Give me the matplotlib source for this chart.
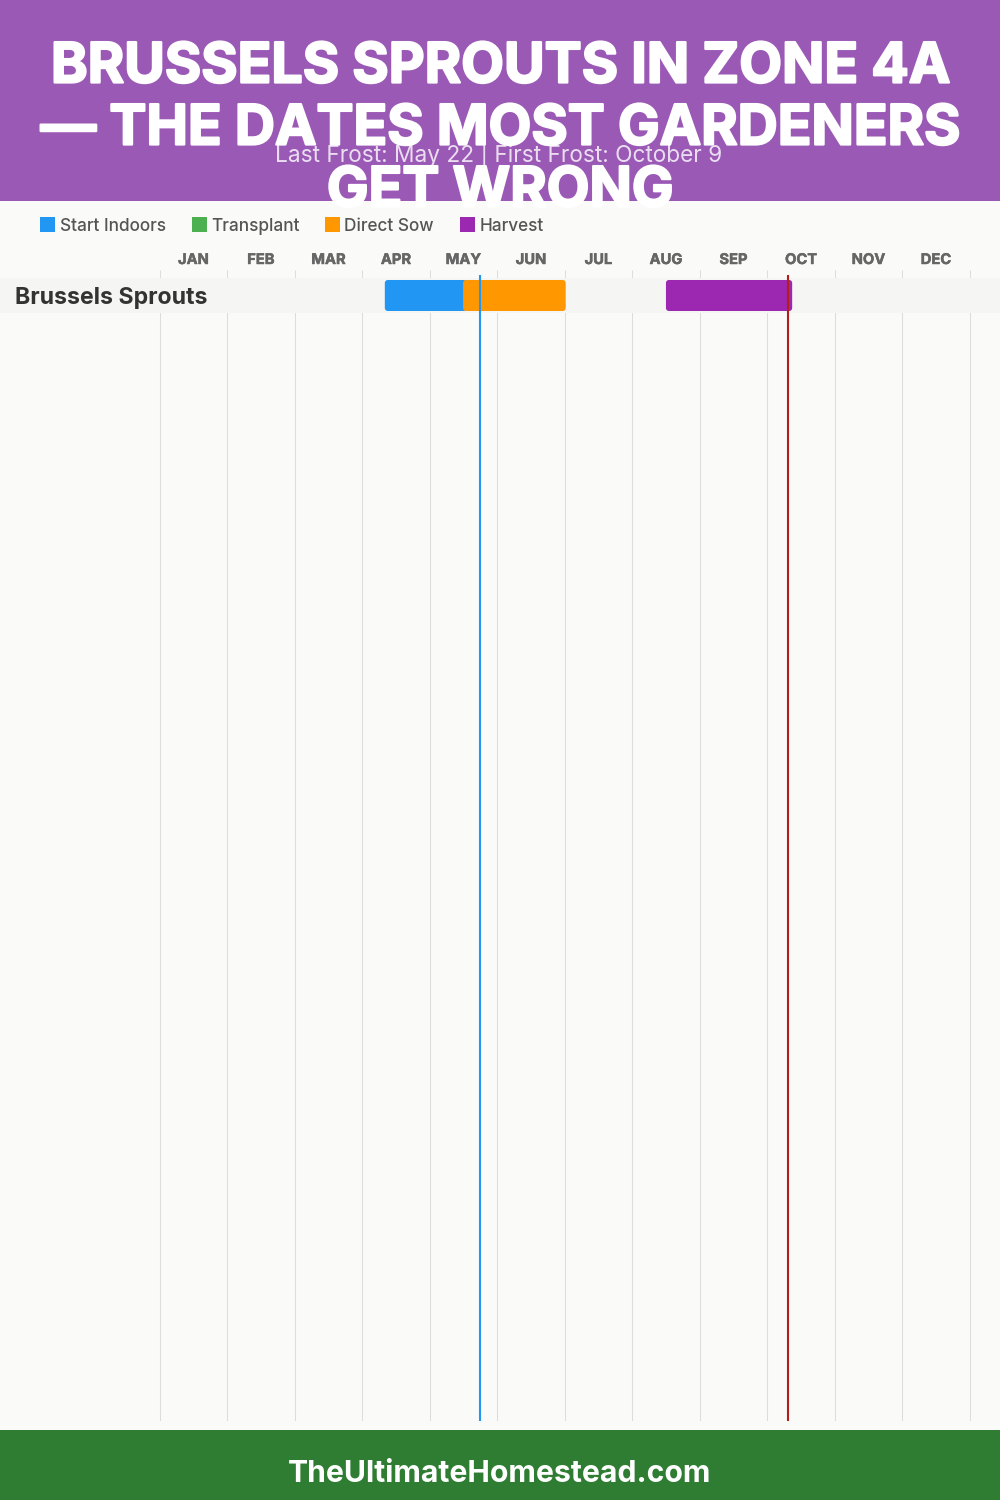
import matplotlib
matplotlib.use('Agg')
import matplotlib.pyplot as plt
import matplotlib.patheffects as pe
from matplotlib.patches import FancyBboxPatch, Rectangle

plt.rcParams['font.family'] = ['Inter', 'DejaVu Sans']

months = ['JAN', 'FEB', 'MAR', 'APR', 'MAY', 'JUN', 'JUL', 'AUG', 'SEP', 'OCT', 'NOV', 'DEC']
title_lines = ['BRUSSELS SPROUTS IN ZONE 4A', '— THE DATES MOST GARDENERS', 'GET WRONG']
subtitle = 'Last Frost: May 22 | First Frost: October 9'
footer = 'TheUltimateHomestead.com'
crop = 'Brussels Sprouts'

legend_labels = ['Start Indoors', 'Transplant', 'Direct Sow', 'Harvest']
legend_colors = ['#2196F3', '#4CAF50', '#FF9800', '#9C27B0']

# bar spans in months from Jan 1
indoors_span = (3.335, 4.55)
sow_span = (4.495, 6.015)
harvest_span = (7.5, 9.37)
last_frost = 4.745
first_frost = 9.31

W, H = 1000, 1500
MONTH_PX = 67.5
GRID_LEFT = 159.7


def fx(x):
    return x / W


def fy(y):
    return 1 - y / H


def rounded_bar(ax, span, color):
    # one y unit is one pixel, so the corner needs the aspect fix
    bar = FancyBboxPatch((span[0], 280), span[1] - span[0], 31,
                         boxstyle=f'round,pad=0,rounding_size={3 / MONTH_PX}',
                         mutation_aspect=MONTH_PX, fc=color, ec='none', zorder=3)
    ax.add_patch(bar)


fig = plt.figure(figsize=(10, 15), dpi=100, facecolor='#FAFAF8')

ax = fig.add_axes([0, fy(1421), 1, (1421 - 250) / H])
ax.set_xlim(-GRID_LEFT / MONTH_PX, (W - GRID_LEFT) / MONTH_PX)
ax.set_ylim(1421, 250)
ax.axis('off')

ax.vlines(range(13), 270, 1421, color='#DDDDDD', lw=0.75, zorder=1)
ax.axhspan(278, 313, color='#F5F5F3', lw=0, zorder=2)

rounded_bar(ax, indoors_span, legend_colors[0])
rounded_bar(ax, sow_span, legend_colors[2])
rounded_bar(ax, harvest_span, legend_colors[3])

ax.vlines(last_frost, 275, 1421, color='#2196F3', lw=1.5, zorder=4)
ax.vlines(first_frost, 275, 1421, color='#B71C1C', lw=1.5, zorder=4)

bold_edge = [pe.withStroke(linewidth=0.35, foreground='#666666')]
for i, m in enumerate(months):
    ax.text(i + 0.5, 264, m, ha='center', va='baseline', fontsize=10.6,
            fontweight='bold', color='#666666', path_effects=bold_edge)

fig.text(fx(15), fy(304), crop, ha='left', va='baseline', fontsize=16.6,
         fontweight='bold', color='#333333')

# header and footer
fig.add_artist(Rectangle((0, fy(201)), 1, 201 / H, transform=fig.transFigure,
                         fc='#9B59B6', ec='none', zorder=0))
fig.add_artist(Rectangle((0, 0), 1, 70 / H, transform=fig.transFigure,
                         fc='#2E7D32', ec='none', zorder=0))

heavy = [pe.withStroke(linewidth=1.6, foreground='white')]
for line, base in zip(title_lines, [82.5, 144.5, 206.5]):
    fig.text(fx(500), fy(base), line, ha='center', va='baseline', fontsize=40,
             fontweight='bold', color='white', path_effects=heavy)
fig.text(fx(499), fy(162.5), subtitle, ha='center', va='baseline', fontsize=16.3,
         color='white', alpha=0.8)
fig.text(fx(499.5), fy(1482), footer, ha='center', va='baseline', fontsize=21.7,
         fontweight='bold', color='white')

# legend
legend_x = [40, 192, 325, 460]
for label, color, x in zip(legend_labels, legend_colors, legend_x):
    fig.add_artist(Rectangle((fx(x), fy(232)), 15 / W, 15 / H, transform=fig.transFigure,
                             fc=color, ec='none'))
    fig.text(fx(x + 19.5), fy(231), label, ha='left', va='baseline', fontsize=12.4,
             fontweight='medium', color='#555555')

fig.savefig('out.png', dpi=100, facecolor=fig.get_facecolor())
